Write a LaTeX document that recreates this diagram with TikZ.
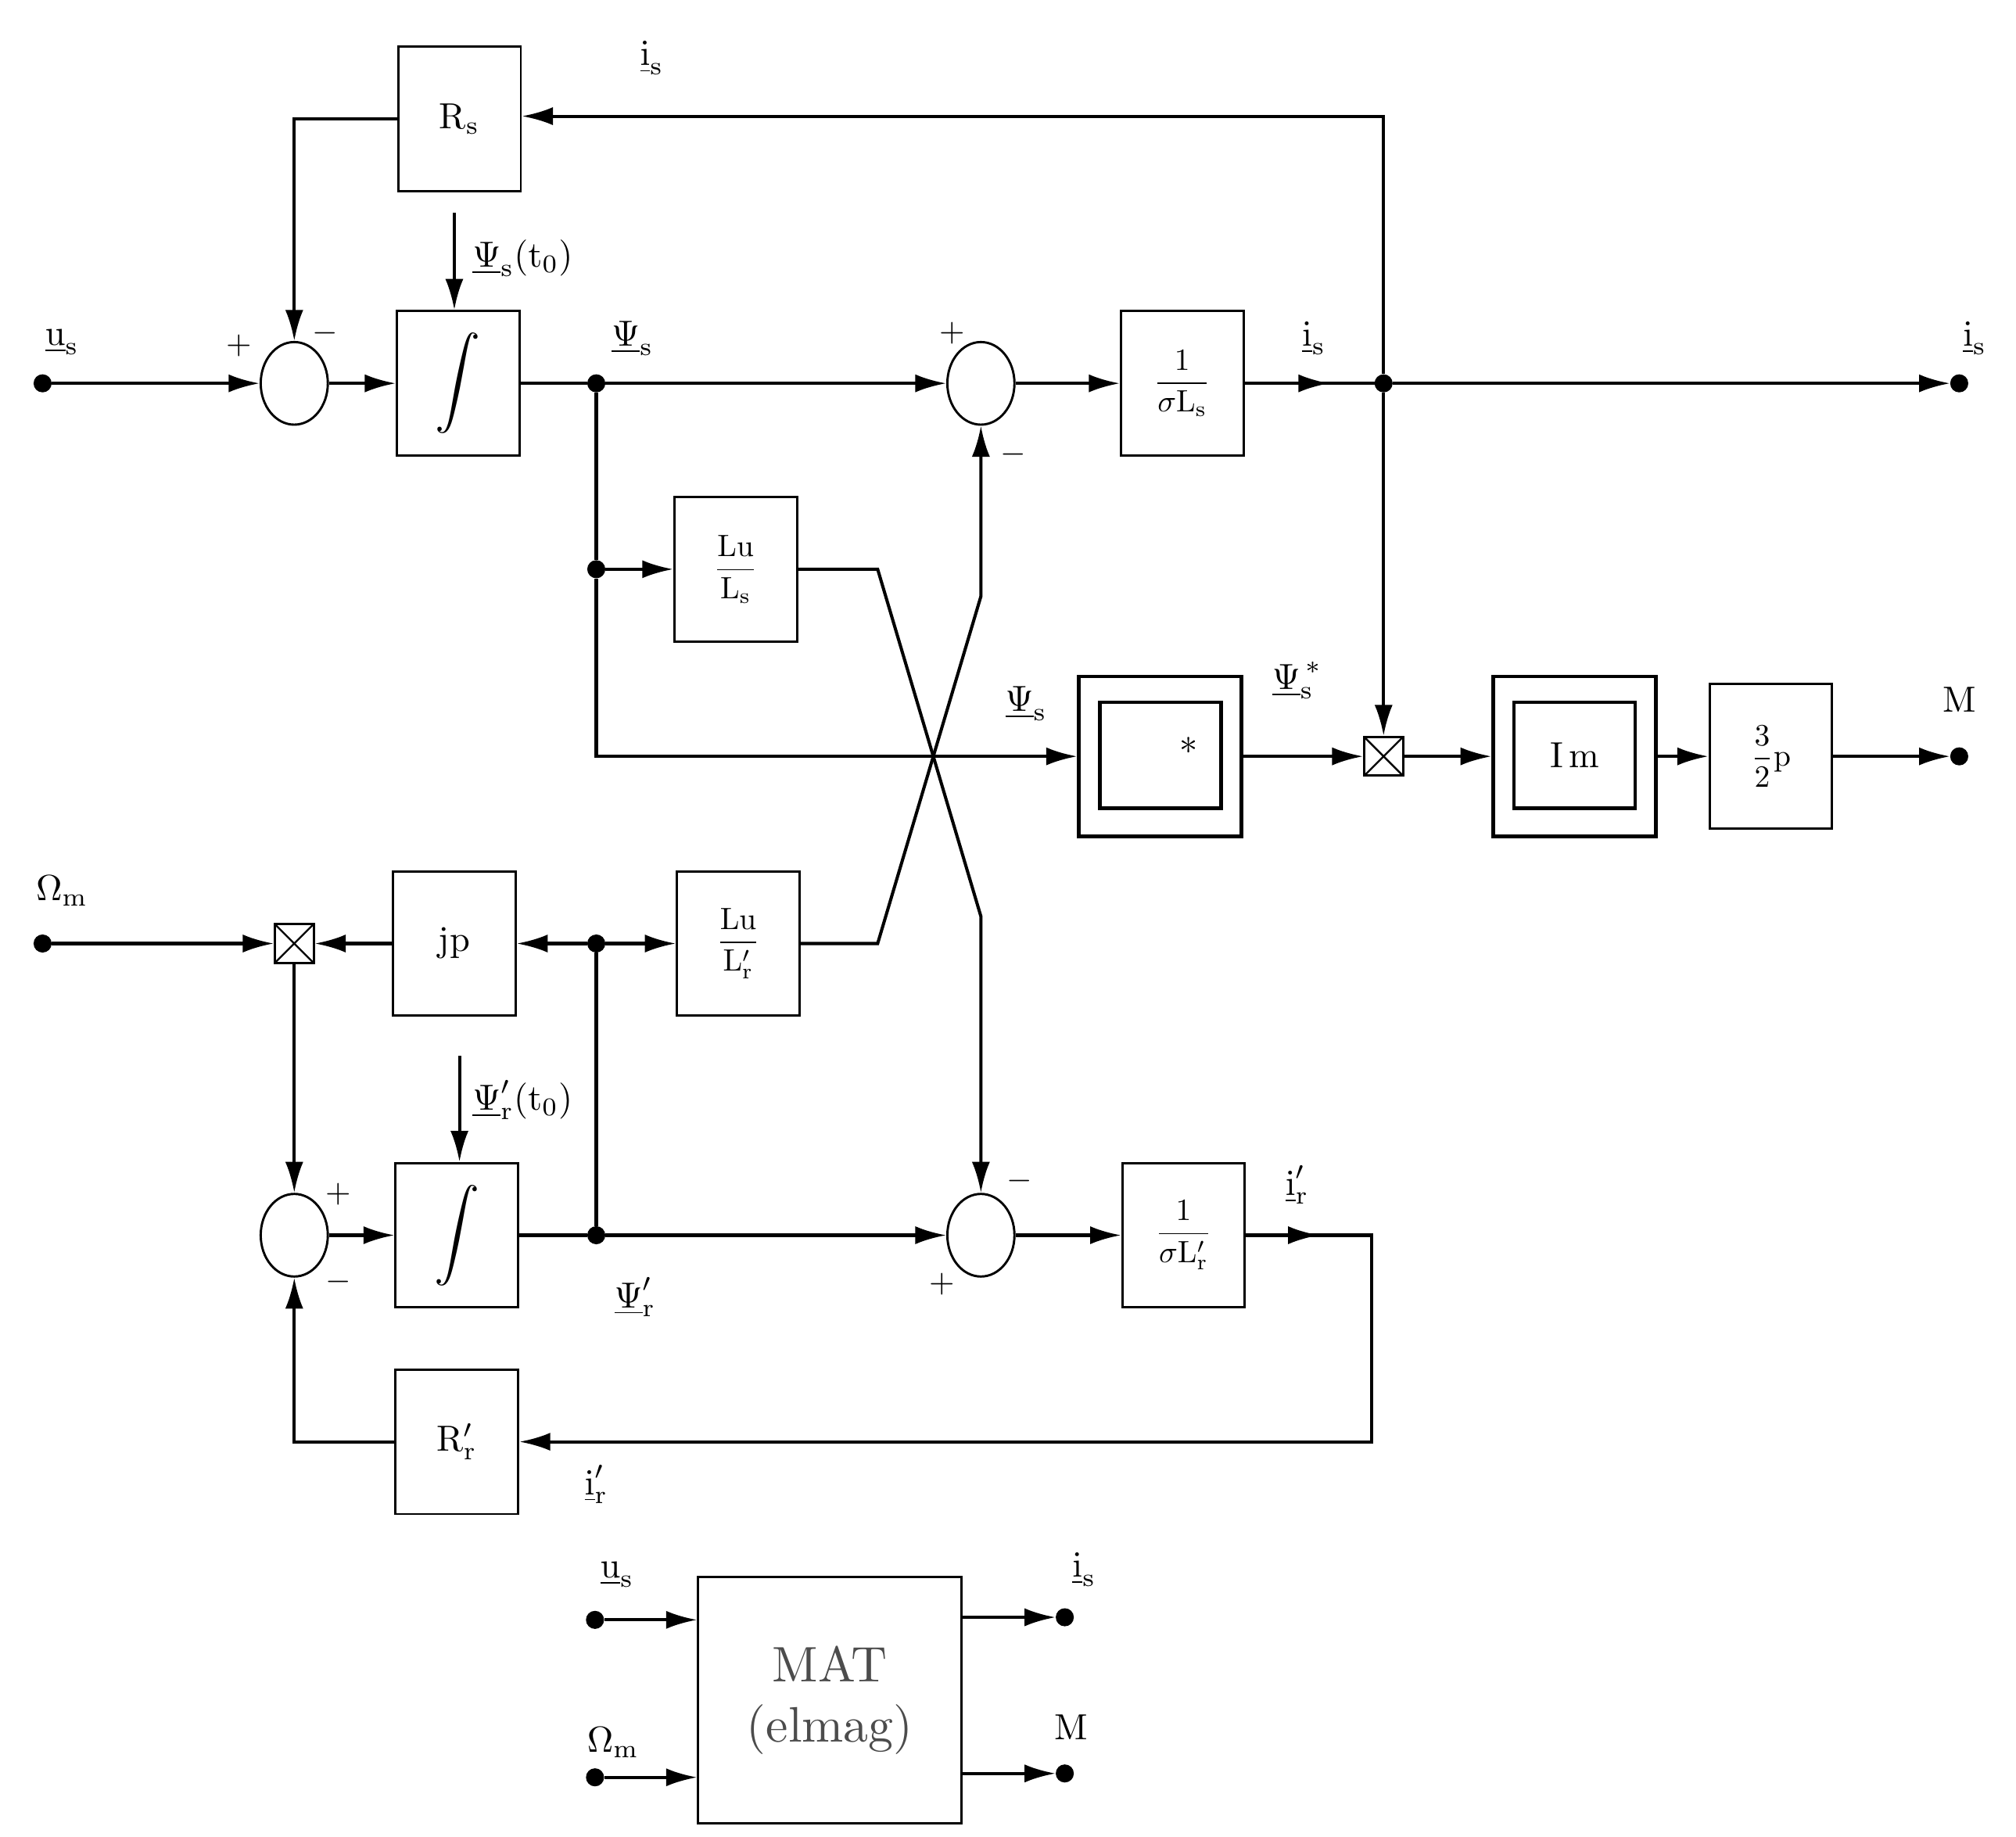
\documentclass[tikz,border=0pt]{standalone}
\usetikzlibrary{shapes.geometric,arrows.meta}
\newcommand{\bt}[1]{\scalebox{4}{#1}}
\newcommand{\fr}[1]{\scalebox{3.4}{#1}}
\newcommand{\sgn}[1]{\scalebox{3.6}{#1}}
\begin{document}
\begin{tikzpicture}[x=0.5mm,y=-0.5mm,
box/.style={draw,line width=2.5pt,minimum width=47.5mm,minimum height=56mm,inner sep=0},
sum/.style={draw,ellipse,line width=2.5pt,minimum width=26mm,minimum height=32mm,inner sep=0},
mul/.style={draw,line width=2.5pt,minimum size=15mm,inner sep=0,path picture={\draw[line width=2pt](path picture bounding box.north west)--(path picture bounding box.south east) (path picture bounding box.north east)--(path picture bounding box.south west);}},
ln/.style={line width=3.5pt},
ar/.style={ln,-{Latex[length=12mm,width=7mm]}},
dot/.style={circle,fill,minimum size=7mm,inner sep=0},
lbl/.style={inner sep=0},
sg/.style={inner sep=0}]
\useasboundingbox (0,0) rectangle (1562,1423);
% top row
\node[box] (Rs) at (356,92) {\bt{R$_{\mathrm s}$}};
\node[sum] (s1) at (228,297) {};
\node[box] (i1) at (355,297) {\scalebox{5}{$\displaystyle\int$}};
\node[sum] (s2) at (760,297) {};
\node[box] (fs) at (916,297) {\fr{$\displaystyle\frac{1}{\sigma \mathrm{L}_{\mathrm s}}$}};
\node[dot] (us) at (33,297) {};
\node[dot] (isout) at (1518,297) {};
\node[dot] (d1) at (462,297) {};
\node[dot] (d2) at (462,441) {};
\node[dot] (d3) at (1072,297) {};
\node[box] (LuLs) at (570,441) {\fr{$\displaystyle\frac{\mathrm{Lu}}{\mathrm{L_s}}$}};
\coordinate (c0) at (352,165);
\node[lbl,anchor=west] at (366,200) {\bt{$\underline{\Psi}_{\mathrm s}(\mathrm t_0)$}};
\node[lbl] at (48,265) {\bt{$\underline{\mathrm u}_{\mathrm s}$}};
\node[lbl] at (490,262) {\bt{$\underline{\Psi}_{\mathrm s}$}};
\node[lbl] at (1018,262) {\bt{$\underline{\mathrm i}_{\mathrm s}$}};
\node[lbl] at (1530,262) {\bt{$\underline{\mathrm i}_{\mathrm s}$}};
\node[lbl] at (505,45) {\bt{$\underline{\mathrm i}_{\mathrm s}$}};
\node[sg] at (185,268) {\sgn{+}};\node[sg] at (252,258) {\sgn{$-$}};
\node[sg] at (738,258) {\sgn{+}};\node[sg] at (785,352) {\sgn{$-$}};
% middle
\node[draw,line width=4pt,minimum width=63mm,minimum height=62mm] (conj) at (899,586) {};
\node[draw,line width=4pt,minimum width=47mm,minimum height=41mm] (conji) at (899,585) {\hspace*{22mm}\raisebox{3mm}{\bt{*}}};
\node[mul] (m1) at (1072,586) {};
\node[draw,line width=4pt,minimum width=63mm,minimum height=62mm] (Im) at (1220,586) {};
\node[draw,line width=4pt,minimum width=47mm,minimum height=41mm] (Imi) at (1220,585) {\bt{I$\,$m}};
\node[box] (p) at (1372,586) {\fr{$\displaystyle\frac{3}{2}\mathrm p$}};
\node[dot] (Mo) at (1518,586) {};
\node[lbl] at (795,545) {\bt{$\underline{\Psi}_{\mathrm s}$}};
\node[lbl] at (1005,527) {\bt{$\underline{\Psi}_{\mathrm s}^{\,*}$}};
\node[lbl] at (1518,542) {\bt{M}};
% lower
\node[dot] (om) at (33,731) {};
\node[mul] (m2) at (228,731) {};
\node[box] (jp) at (352,731) {\bt{jp}};
\node[dot] (d4) at (462,731) {};
\node[box] (LuLr) at (572,731) {\fr{$\displaystyle\frac{\mathrm{Lu}}{\mathrm{L'_r}}$}};
\node[sum] (s4) at (228,957) {};
\node[box] (i2) at (354,957) {\scalebox{5}{$\displaystyle\int$}};
\node[dot] (d5) at (462,957) {};
\node[sum] (s3) at (760,957) {};
\node[box] (fr) at (917,957) {\fr{$\displaystyle\frac{1}{\sigma \mathrm{L}'_{\mathrm r}}$}};
\node[box] (Rr) at (354,1117) {\bt{R$'_{\mathrm r}$}};
\coordinate (c1) at (356,818);
\node[lbl,anchor=west] at (366,852) {\bt{$\underline{\Psi}'_{\mathrm r}(\mathrm t_0)$}};
\node[lbl] at (48,690) {\bt{$\Omega_{\mathrm m}$}};
\node[lbl] at (492,1005) {\bt{$\underline{\Psi}'_{\mathrm r}$}};
\node[lbl] at (1005,918) {\bt{$\underline{\mathrm i}'_{\mathrm r}$}};
\node[lbl] at (462,1150) {\bt{$\underline{\mathrm i}'_{\mathrm r}$}};
\node[sg] at (262,925) {\sgn{+}};\node[sg] at (262,993) {\sgn{$-$}};
\node[sg] at (790,915) {\sgn{$-$}};\node[sg] at (730,995) {\sgn{+}};
% MAT
\node[draw,line width=2.5pt,minimum width=102mm,minimum height=95.5mm,text=black!70] (MAT) at (643,1317) {\scalebox{5.5}{\begin{tabular}{c}MAT\\(elmag)\end{tabular}}};
\node[dot] (mu) at (461,1255) {};
\node[dot] (mo) at (461,1377) {};
\node[dot] (mi) at (825,1253) {};
\node[dot] (mM) at (825,1374) {};
\node[lbl] at (478,1220) {\bt{$\underline{\mathrm u}_{\mathrm s}$}};
\node[lbl] at (475,1350) {\bt{$\Omega_{\mathrm m}$}};
\node[lbl] at (840,1216) {\bt{$\underline{\mathrm i}_{\mathrm s}$}};
\node[lbl] at (830,1338) {\bt{M}};
% connectors top
\draw[ar] (us) -- (s1);
\draw[ar] (s1) -- (i1);
\draw[ln] (i1) -- (d1);
\draw[ar] (d1) -- (s2);
\draw[ar] (s2) -- (fs);
\draw[ln] (fs) -- (d3);
\draw[ar] (fs.east) -- (1030,297);
\draw[ar] (d3) -- (isout);
\draw[ar] (d3) -- (1072,90) -- (Rs.east |- 0,90);
\draw[ar] (Rs.west) -| (s1.north);
\draw[ar] (c0) -- (i1.north -| c0);
\draw[ar] (d2) -- (LuLs);
\draw[ln] (d1) -- (d2);
\draw[ar] (d2) |- (conj.west);
\draw[ar] (LuLs.east) -- (680,441) -- (760,710) -- (s3.north);
\draw[ar] (LuLr.east) -- (680,731) -- (760,462) -- (s2.south);
\draw[ar] (conj.east) -- (m1);
\draw[ar] (d3) -- (m1.north);
\draw[ar] (m1) -- (Im);
\draw[ar] (Im) -- (p);
\draw[ar] (p) -- (Mo);
% lower
\draw[ar] (om) -- (m2);
\draw[ar] (d4) -- (jp.east);
\draw[ar] (jp) -- (m2);
\draw[ar] (d4) -- (LuLr.west);
\draw[ar] (m2) -- (s4.north);
\draw[ar] (s4) -- (i2);
\draw[ar] (c1) -- (i2.north -| c1);
\draw[ln] (i2) -- (d5);
\draw[ln] (d5) -- (d4);
\draw[ar] (d5) -- (s3);
\draw[ar] (s3) -- (fr);
\draw[ar] (fr.east) -- (1022,957);
\draw[ar] (fr.east) -- (1063,957) -- (1063,1117) -- (Rr.east);
\draw[ar] (Rr.west) -| (s4.south);
% MAT
\draw[ar] (mu) -- (MAT.west |- mu);
\draw[ar] (mo) -- (MAT.west |- mo);
\draw[ar] (MAT.east |- mi) -- (mi);
\draw[ar] (MAT.east |- mM) -- (mM);
\end{tikzpicture}
\end{document}
